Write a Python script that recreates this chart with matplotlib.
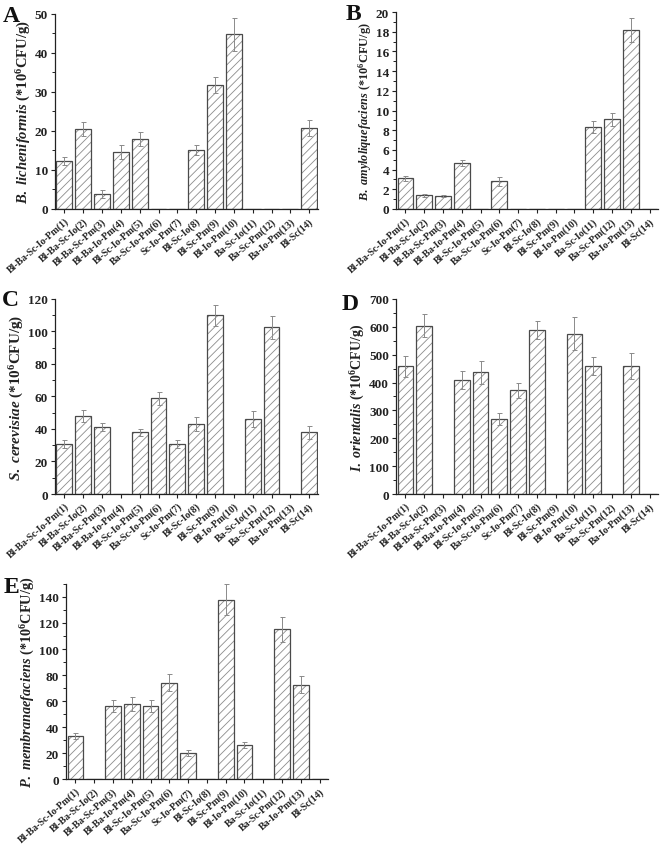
import matplotlib
matplotlib.use("Agg")
import matplotlib.pyplot as plt
import numpy as np
from matplotlib.ticker import MultipleLocator, AutoMinorLocator

plt.rcParams['font.family'] = ['Liberation Serif', 'DejaVu Serif']
plt.rcParams['font.weight'] = 'bold'
plt.rcParams['mathtext.fontset'] = 'custom'
plt.rcParams['mathtext.rm'] = 'Liberation Serif:bold'
plt.rcParams['mathtext.it'] = 'Liberation Serif:italic:bold'
plt.rcParams['mathtext.bf'] = 'Liberation Serif:bold'
plt.rcParams['hatch.linewidth'] = 0.6

categories = ["Bl-Ba-Sc-Io-Pm(1)", "Bl-Ba-Sc-Io(2)", "Bl-Ba-Sc-Pm(3)", "Bl-Ba-Io-Pm(4)",
              "Bl-Sc-Io-Pm(5)", "Ba-Sc-Io-Pm(6)", "Sc-Io-Pm(7)", "Bl-Sc-Io(8)",
              "Bl-Sc-Pm(9)", "Bl-Io-Pm(10)", "Ba-Sc-Io(11)", "Ba-Sc-Pm(12)",
              "Ba-Io-Pm(13)", "Bl-Sc(14)"]

a_vals = [12.3, 20.5, 3.8, 14.6, 17.9, 0, 0, 15.1, 31.7, 44.7, 0, 0, 0, 20.7]
a_err = [1.1, 1.7, 1.0, 1.7, 1.8, 0, 0, 1.3, 2.0, 4.3, 0, 0, 0, 2.0]
b_vals = [3.1, 1.4, 1.3, 4.7, 0, 2.8, 0, 0, 0, 0, 8.3, 9.1, 18.2, 0]
b_err = [0.3, 0.15, 0.1, 0.3, 0, 0.45, 0, 0, 0, 0, 0.6, 0.7, 1.2, 0]
c_vals = [31, 48, 41, 0, 38, 59, 31, 43, 110, 0, 46, 102.5, 0, 38]
c_err = [2.5, 3.5, 2.5, 0, 2.2, 4, 2.5, 4.2, 6.5, 0, 5, 7, 0, 4]
d_vals = [458, 604, 0, 408, 437, 270, 372, 590, 0, 576, 458, 0, 458, 0]
d_err = [37, 42, 0, 32, 42, 22, 27, 32, 0, 58, 32, 0, 47, 0]
e_vals = [33, 0, 56, 57.5, 56, 74, 20, 0, 138, 26, 0, 115, 72.5, 0]
e_err = [2.5, 0, 4.5, 5.5, 4.5, 6.5, 2.2, 0, 12, 2.5, 0, 9.5, 6.5, 0]

W, H = 660, 845
# (letter, species, values, errors, ymax, step, axes rect, ylabel size, letter pixel center)
panels = [
    ("A", "B. licheniformis", a_vals, a_err, 50, 10, [0.0833, 0.7515, 0.398, 0.231], 10.5, (11, 17)),
    ("B", "B. amyloliquefaciens", b_vals, b_err, 20, 2, [0.600, 0.7515, 0.397, 0.233], 8.8, (353, 14)),
    ("C", "S. cerevisiae", c_vals, c_err, 120, 20, [0.0833, 0.4142, 0.398, 0.2308], 10.9, (10, 301)),
    ("D", "I. orientalis", d_vals, d_err, 700, 100, [0.600, 0.4142, 0.397, 0.2308], 10.0, (350, 304)),
    ("E", "P. membranaefaciens", e_vals, e_err, 150, 20, [0.100, 0.0769, 0.397, 0.2308], 10.3, (11, 588)),
]

fig = plt.figure(figsize=(6.6, 8.45), dpi=100)
x = np.arange(len(categories))

for letter, species, vals, err, ymax, step, rect, lsize, lpos in panels:
    ax = fig.add_axes(rect)
    vals = np.array(vals, dtype=float)
    err = np.array(err, dtype=float)
    ax.bar(x, vals, width=0.84, color='white', edgecolor='#8c8c8c',
           hatch='////', linewidth=0, zorder=2)
    ax.bar(x, vals, width=0.84, fill=False, edgecolor='#4a4a4a',
           linewidth=0.9, zorder=2.5)
    m = vals > 0
    ax.errorbar(x[m], vals[m], yerr=err[m], fmt='none', ecolor='#8a8a8a',
                elinewidth=0.7, capsize=1.8, capthick=0.7, zorder=3)
    ax.set_xlim(-0.5, 13.45)
    ax.set_ylim(0, ymax)
    ax.yaxis.set_major_locator(MultipleLocator(step))
    ax.yaxis.set_minor_locator(AutoMinorLocator(2))
    ax.set_xticks(x)
    ax.set_xticklabels(categories, rotation=41, ha='right', rotation_mode='anchor',
                       fontsize=7.1, fontweight='bold')
    for lab in ax.get_yticklabels():
        lab.set_fontsize(9.5)
        lab.set_fontweight('bold')
    ax.tick_params(axis='both', direction='out', length=3, width=0.8, colors='#222222',
                   labelcolor='#222222', pad=2)
    ax.tick_params(axis='y', which='minor', direction='out', length=2, width=0.7, colors='#222222')
    ax.spines['top'].set_visible(False)
    ax.spines['right'].set_visible(False)
    for s in ('left', 'bottom'):
        ax.spines[s].set_linewidth(0.9)
        ax.spines[s].set_color('#222222')
    sp = species.replace(' ', r'\ ')
    ax.set_ylabel(r'$\mathit{' + sp + r'}$ (*10$^{6}$CFU/g)', fontsize=lsize,
                  fontweight='bold', color='#222222', labelpad=1.5)
    fig.text(lpos[0] / W, 1 - lpos[1] / H, letter, fontsize=17, fontweight='bold',
             ha='center', va='center', color='#111111')

fig.savefig("out.png", dpi=100)
